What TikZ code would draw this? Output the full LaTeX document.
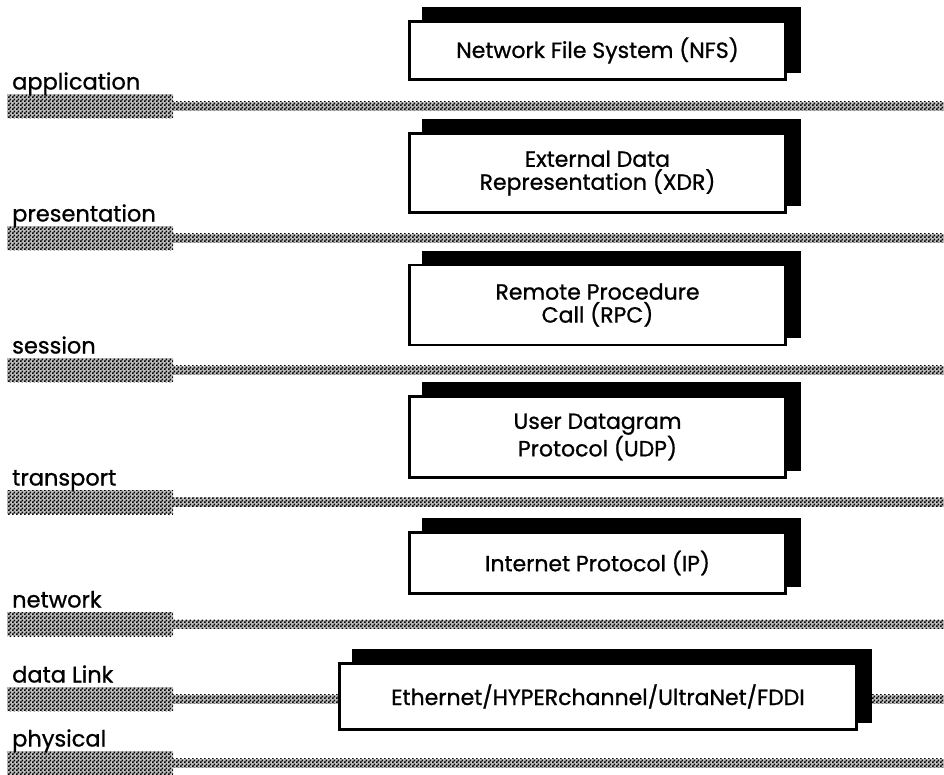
\documentclass[tikz,border=0pt]{standalone}
\usepackage{fontspec}
\setmainfont{Poppins}[FakeBold=0.9]
\usetikzlibrary{patterns,calc}

% fine checkerboard used for the layer bars
\pgfdeclarepatternformonly{dither}{\pgfpointorigin}{\pgfqpoint{4pt}{4pt}}{\pgfqpoint{4pt}{4pt}}{%
  \pgfpathrectangle{\pgfpointorigin}{\pgfqpoint{2pt}{2pt}}%
  \pgfpathrectangle{\pgfqpoint{2pt}{2pt}}{\pgfqpoint{2pt}{2pt}}%
  \pgfusepath{fill}}

\pgfdeclarelayer{lines}
\pgfdeclarelayer{shadow}
\pgfsetlayers{lines,shadow,main}

\tikzset{
  layerbar/.style={preaction={fill=black!25}, pattern=dither, pattern color=black},
  layertext/.style={anchor=base west, inner sep=0pt, font=\fontsize{22.5}{24}\selectfont},
  protobox/.style={draw, line width=2.5pt, fill=white, align=center, inner sep=0pt,
    font=\fontsize{22}{23}\selectfont},
}

\begin{document}
\begin{tikzpicture}[x=1pt,y=-1pt]
\useasboundingbox (0,0) rectangle (944,774);

% OSI layer bars with their names
\begin{pgfonlayer}{lines}
\foreach \nm/\txt/\yy in {app/application/106, pres/presentation/238,
    sess/session/370, trans/transport/502, net/network/624,
    dl/data Link/699, phys/physical/763} {
  \fill[layerbar] (7,\yy-12) rectangle (173,\yy+12);
  \fill[layerbar] (173,\yy-4.5) rectangle (944,\yy+4.5);
  \node[layertext] (\nm) at (12,\yy-16.5) {\txt};
}
\end{pgfonlayer}

% protocol boxes
\node[protobox, minimum width=376pt, minimum height=58pt] (nfs) at (597.5,50.5)
  {Network File System (NFS)};
\node[protobox, minimum width=376pt, minimum height=79pt] (xdr) at (597.5,173)
  {External Data\\Representation (XDR)};
\node[protobox, minimum width=376pt, minimum height=80pt] (rpc) at (597.5,305)
  {Remote Procedure\\Call (RPC)};
\node[protobox, minimum width=376pt, minimum height=81pt] (udp) at (597.5,437)
  {User Datagram\\Protocol (UDP)};
\node[protobox, minimum width=376pt, minimum height=61pt] (ip) at (597.5,563)
  {Internet Protocol (IP)};
\node[protobox, minimum width=517pt, minimum height=66pt] (eth) at (598,696.5)
  {Ethernet/HYPERchannel/UltraNet/FDDI};

% drop shadows behind each box
\begin{pgfonlayer}{shadow}
\foreach \b in {nfs,xdr,rpc,udp,ip,eth} {
  \fill[black] ($(\b.north west)+(14,-13)$) rectangle ($(\b.south east)+(14,-8)$);
}
\end{pgfonlayer}
\end{tikzpicture}
\end{document}
